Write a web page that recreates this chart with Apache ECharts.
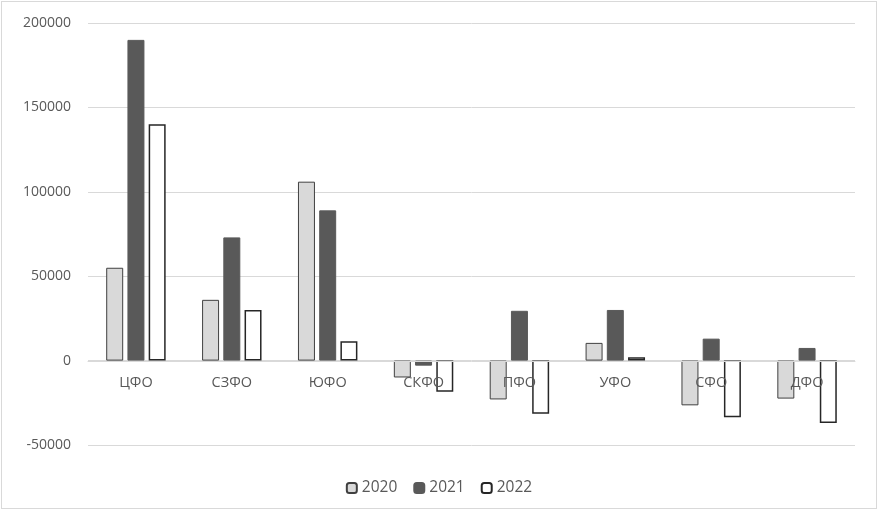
<!DOCTYPE html>
<html><head><meta charset="utf-8">
<script src="https://cdn.jsdelivr.net/npm/echarts@6/dist/echarts.min.js"></script>
<style>
html,body{margin:0;padding:0;background:#fff;}
#c{position:absolute;left:1px;top:1px;width:876px;height:508px;border:1px solid #d9d9d9;box-sizing:border-box;}
</style></head>
<body><div id="c"></div>
<script>
const categories = ['ЦФО','СЗФО','ЮФО','СКФО','ПФО','УФО','СФО','ДФО'];
const s2020 = [55000, 36000, 106000, -10000, -23000, 10500, -26500, -22500];
const s2021 = [190000, 73000, 89000, -3000, 29500, 30000, 13000, 7500];
const s2022 = [140000, 30000, 11500, -18500, -31500, 2000, -33500, -37000];
const yTicks = {min: -50000, max: 200000, interval: 50000};

const chart = echarts.init(document.getElementById('c'));
const font = '"Open Sans", "Liberation Sans", sans-serif';
chart.setOption({
  animation: false,
  textStyle: {fontFamily: font},
  grid: {left: 86, right: 21, top: 21, bottom: 63},
  legend: {
    top: 473, left: 'center', itemWidth: 10, itemHeight: 10, itemGap: 16,
    textStyle: {fontSize: 15.5, color: '#595959', fontFamily: font},
    data: ['2020','2021','2022']
  },
  xAxis: {
    type: 'category', data: categories,
    offset: -84, z: 10,
    axisLine: {onZero: false, lineStyle: {color: '#d9d9d9', width: 1}},
    axisTick: {show: false},
    axisLabel: {color: '#595959', fontSize: 14.5, margin: 14, fontFamily: font}
  },
  yAxis: {
    type: 'value', min: yTicks.min, max: yTicks.max, interval: yTicks.interval,
    axisLine: {show: false}, axisTick: {show: false},
    splitLine: {lineStyle: {color: '#d9d9d9', width: 1}},
    axisLabel: {color: '#595959', fontSize: 14, margin: 17, fontFamily: font,
                formatter: v => String(v)}
  },
  series: [
    {name: '2020', type: 'bar', data: s2020, barGap: '25%', barCategoryGap: '38%',
     itemStyle: {color: '#d9d9d9', borderColor: '#404040', borderWidth: 1}},
    {name: '2021', type: 'bar', data: s2021,
     itemStyle: {color: '#595959', borderColor: '#595959', borderWidth: 1}},
    {name: '2022', type: 'bar', data: s2022,
     itemStyle: {color: '#ffffff', borderColor: '#262626', borderWidth: 1.5}}
  ]
});
</script></body></html>
